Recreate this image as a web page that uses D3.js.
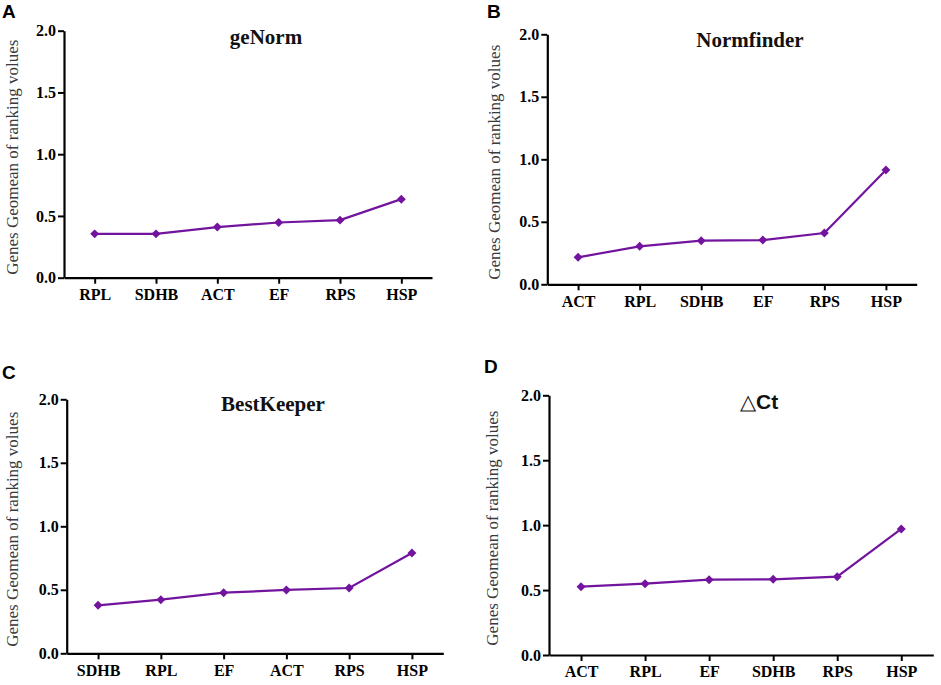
<!DOCTYPE html>
<html>
<head>
<meta charset="utf-8">
<script src="https://cdn.jsdelivr.net/npm/d3@7"></script>
<style>
  body { margin: 0; background: #fff; }
  svg { display: block; }
</style>
</head>
<body>
<div id="chart"></div>
<script>
// data ===========================================================
const yTicks = [0, 0.5, 1.0, 1.5, 2.0];

const genormGenes = ['RPL', 'SDHB', 'ACT', 'EF', 'RPS', 'HSP'];
const genormValues = [0.355, 0.355, 0.41, 0.447, 0.466, 0.636];

const normfinderGenes = ['ACT', 'RPL', 'SDHB', 'EF', 'RPS', 'HSP'];
const normfinderValues = [0.216, 0.304, 0.349, 0.354, 0.41, 0.915];

const bestkeeperGenes = ['SDHB', 'RPL', 'EF', 'ACT', 'RPS', 'HSP'];
const bestkeeperValues = [0.378, 0.422, 0.477, 0.499, 0.514, 0.79];

const deltaCtGenes = ['ACT', 'RPL', 'EF', 'SDHB', 'RPS', 'HSP'];
const deltaCtValues = [0.526, 0.549, 0.58, 0.583, 0.603, 0.971];
// ================================================================

const width = 941;
const height = 685;
const lineColor = '#72149d';
const serif = '"Liberation Serif", "Times New Roman", serif';
const sans = '"Liberation Sans", Arial, sans-serif';

const svg = d3.select('#chart').append('svg').attr('width', width).attr('height', height);

// panel layout (pixel frame of each plot)
const panels = [
	{ letter: 'A', title: 'geNorm', genes: genormGenes, values: genormValues,
	  left: 64, right: 432, top: 30.7, bottom: 277.7, letterX: 2, letterY: 18, titleY: 44, labelX: 12 },
	{ letter: 'B', title: 'Normfinder', genes: normfinderGenes, values: normfinderValues,
	  left: 547.3, right: 916.7, top: 34.3, bottom: 284.3, letterX: 487, letterY: 18, titleY: 47, labelX: 494 },
	{ letter: 'C', title: 'BestKeeper', genes: bestkeeperGenes, values: bestkeeperValues,
	  left: 66.7, right: 443.3, top: 399.3, bottom: 653.3, letterX: 2, letterY: 379, titleY: 411, labelX: 12 },
	{ letter: 'D', title: '\u25B3Ct', genes: deltaCtGenes, values: deltaCtValues,
	  left: 549, right: 933.3, top: 395.3, bottom: 655, letterX: 484, letterY: 373, titleY: 409, labelX: 492 },
];

panels.forEach(function (p) {
	const g = svg.append('g');

	const x = d3.scalePoint().domain(p.genes).range([p.left, p.right]).padding(0.5);
	const y = d3.scaleLinear().domain([0, 2]).range([p.bottom, p.top]);

	// y axis
	const yAxis = g.append('g')
		.attr('transform', `translate(${p.left},0)`)
		.call(d3.axisLeft(y).tickValues(yTicks).tickFormat(d3.format('.1f')).tickSize(6).tickSizeOuter(0).tickPadding(2));

	// x axis
	const xAxis = g.append('g')
		.attr('transform', `translate(0,${p.bottom})`)
		.call(d3.axisBottom(x).tickSize(6).tickSizeOuter(0).tickPadding(5));

	[xAxis, yAxis].forEach(function (ax) {
		ax.select('.domain').attr('stroke', '#000').attr('stroke-width', 2.2);
		ax.selectAll('.tick line').attr('stroke', '#000').attr('stroke-width', 2);
		ax.selectAll('.tick text')
			.attr('fill', '#000')
			.style('font-family', serif)
			.style('font-weight', 'bold')
			.style('font-size', '16px');
	});

	// axis label
	g.append('text')
		.attr('transform', `translate(${p.labelX},${(p.top + p.bottom) / 2 + 3}) rotate(-90)`)
		.attr('text-anchor', 'middle')
		.attr('dy', '0.35em')
		.attr('fill', '#3a3a3a')
		.style('font-family', serif)
		.style('font-size', '17px')
		.text('Genes Geomean of ranking volues');

	// title
	const titleX = (p.left + p.right) / 2 + 18;
	if (p.letter === 'D') {
		const t = g.append('text')
			.attr('x', titleX)
			.attr('y', p.titleY)
			.attr('text-anchor', 'middle')
			.attr('fill', '#111')
			.style('font-family', sans)
			.style('font-size', '21px');
		t.append('tspan').style('font-weight', 'normal').text('\u25B3');
		t.append('tspan').style('font-weight', 'bold').text('Ct');
	} else {
		g.append('text')
			.attr('x', titleX)
			.attr('y', p.titleY)
			.attr('text-anchor', 'middle')
			.attr('fill', '#111')
			.style('font-family', serif)
			.style('font-weight', 'bold')
			.style('font-size', '21px')
			.text(p.title);
	}

	// panel letter
	g.append('text')
		.attr('x', p.letterX)
		.attr('y', p.letterY)
		.attr('fill', '#000')
		.style('font-family', sans)
		.style('font-weight', 'bold')
		.style('font-size', '19px')
		.text(p.letter);

	// line + markers
	const pts = p.genes.map((gene, i) => ({ gene: gene, value: p.values[i] }));

	g.append('path')
		.datum(pts)
		.attr('fill', 'none')
		.attr('stroke', lineColor)
		.attr('stroke-width', 2.2)
		.attr('d', d3.line().x((d) => x(d.gene)).y((d) => y(d.value)));

	g.selectAll('.marker')
		.data(pts)
		.enter()
		.append('path')
		.attr('class', 'marker')
		.attr('transform', (d) => `translate(${x(d.gene)},${y(d.value)}) rotate(45)`)
		.attr('d', d3.symbol().type(d3.symbolSquare).size(40))
		.attr('fill', lineColor);
});
</script>
</body>
</html>
